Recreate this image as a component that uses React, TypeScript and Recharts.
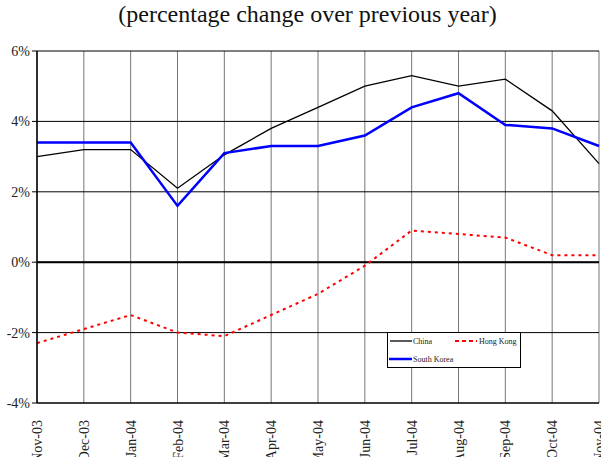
import React from "react";
import {
  LineChart,
  Line,
  XAxis,
  YAxis,
  CartesianGrid,
  ReferenceLine,
} from "recharts";

const MONTHS = [
  "Nov-03",
  "Dec-03",
  "Jan-04",
  "Feb-04",
  "Mar-04",
  "Apr-04",
  "May-04",
  "Jun-04",
  "Jul-04",
  "Aug-04",
  "Sep-04",
  "Oct-04",
  "Nov-04",
];

const CHINA = [3.0, 3.2, 3.2, 2.1, 3.05, 3.8, 4.4, 5.0, 5.3, 5.0, 5.2, 4.3, 2.8];
const HONG_KONG = [-2.3, -1.9, -1.5, -2.0, -2.1, -1.5, -0.9, -0.1, 0.9, 0.8, 0.7, 0.2, 0.2];
const SOUTH_KOREA = [3.4, 3.4, 3.4, 1.6, 3.1, 3.3, 3.3, 3.6, 4.4, 4.8, 3.9, 3.8, 3.3];

const Y_TICKS = [-4, -2, 0, 2, 4, 6];

const FONT = "Times New Roman, Liberation Serif, serif";

const data = MONTHS.map((month, i) => ({
  month,
  china: CHINA[i],
  hongKong: HONG_KONG[i],
  southKorea: SOUTH_KOREA[i],
}));

const MonthTick = (props: any) => {
  const { x, y, payload } = props;
  return (
    <text
      x={x + 5}
      y={y + 9}
      transform={`rotate(-90, ${x + 5}, ${y + 9})`}
      textAnchor="end"
      fontFamily={FONT}
      fontSize={14}
      fill="#222"
    >
      {payload.value}
    </text>
  );
};

const LegendBox = () => (
  <svg width={135} height={37} style={{ display: "block" }}>
    <rect x={0.5} y={0.5} width={133} height={35} fill="#fff" stroke="#000" />
    <line x1={3} y1={9} x2={25} y2={9} stroke="#000" strokeWidth={1.3} />
    <text x={26} y={12} fontFamily={FONT} fontSize={8} fill="#222">
      China
    </text>
    <line
      x1={68}
      y1={9}
      x2={90}
      y2={9}
      stroke="#ff0000"
      strokeWidth={2}
      strokeDasharray="4 3"
    />
    <text x={92} y={12} fontFamily={FONT} fontSize={8} fill="#222">
      Hong Kong
    </text>
    <line x1={2} y1={27} x2={25} y2={27} stroke="#0000ff" strokeWidth={2.5} />
    <text x={26} y={30} fontFamily={FONT} fontSize={8} fill="#222">
      South Korea
    </text>
  </svg>
);

export default function App() {
  return (
    <div
      style={{
        position: "absolute",
        left: 0,
        top: 0,
        width: 601,
        height: 457,
        background: "#fff",
        overflow: "hidden",
      }}
    >
      <div
        style={{
          position: "absolute",
          left: 0,
          top: 1,
          width: 601,
          textAlign: "center",
          fontFamily: FONT,
          fontSize: 24,
          color: "#111",
          paddingLeft: 14,
          boxSizing: "border-box",
        }}
      >
        (percentage change over previous year)
      </div>
      <LineChart
        width={601}
        height={457}
        data={data}
        margin={{ top: 51, right: 2, bottom: 0, left: 0 }}
      >
        <CartesianGrid horizontal={false} stroke="#777" strokeWidth={1} />
        <CartesianGrid vertical={false} stroke="#000" strokeWidth={1} />
        <XAxis
          dataKey="month"
          height={54}
          interval={0}
          tick={<MonthTick />}
          tickLine={false}
          axisLine={{ stroke: "#000" }}
        />
        <YAxis
          width={37}
          domain={[-4, 6]}
          ticks={Y_TICKS}
          interval={0}
          tickFormatter={(v: number) => `${v}%`}
          tick={{ fontFamily: FONT, fontSize: 14, fill: "#222" }}
          tickLine={{ stroke: "#000" }}
          tickSize={5}
          axisLine={{ stroke: "#000", strokeWidth: 1.5 }}
        />
        <ReferenceLine y={0} stroke="#000" strokeWidth={2} />
        <Line
          type="linear"
          dataKey="china"
          stroke="#000"
          strokeWidth={1.3}
          dot={false}
          isAnimationActive={false}
        />
        <Line
          type="linear"
          dataKey="hongKong"
          stroke="#ff0000"
          strokeWidth={2}
          strokeDasharray="3 4"
          dot={false}
          isAnimationActive={false}
        />
        <Line
          type="linear"
          dataKey="southKorea"
          stroke="#0000ff"
          strokeWidth={2.5}
          dot={false}
          isAnimationActive={false}
        />
      </LineChart>
      <div style={{ position: "absolute", left: 387, top: 332 }}>
        <LegendBox />
      </div>
    </div>
  );
}
